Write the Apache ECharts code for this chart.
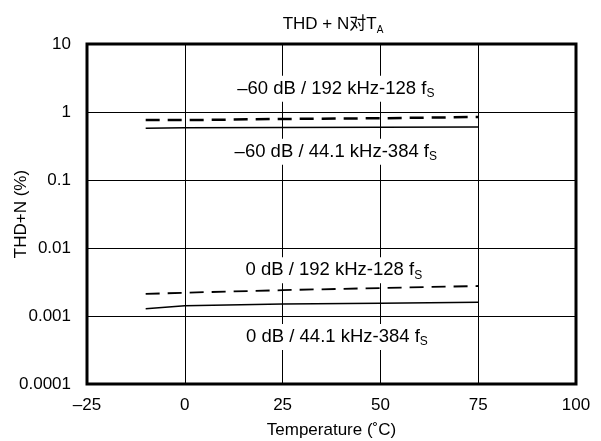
<!DOCTYPE html>
<html>
<head>
<meta charset="utf-8">
<script src="https://cdn.jsdelivr.net/npm/echarts@6/dist/echarts.min.js"></script>
<style>
  html, body { margin: 0; padding: 0; background: #fff; }
  #chart { width: 601px; height: 441px; }
</style>
</head>
<body>
<div id="chart"></div>
<script>
// 温度点
const temps = [-10, 0, 25, 50, 75];
// 各曲线数据 (THD+N %)
const m60_192 = [0.76, 0.76, 0.79, 0.81, 0.845];
const m60_441 = [0.575, 0.585, 0.59, 0.595, 0.60];
const z0_192 = [0.00211, 0.0022, 0.0024, 0.00258, 0.00276];
const z0_441 = [0.00128, 0.00142, 0.0015, 0.00154, 0.00159];
const yTicks = ['0.0001', '0.001', '0.01', '0.1', '1', '10'];
// 标注文字 [x, y, 文本, 下标]
const notes = [
  [38.6, 2.2, '–60 dB / 192 kHz-128 f', 'S'],
  [38.6, 0.26, '–60 dB / 44.1 kHz-384 f', 'S'],
  [38.1, 0.0047, '0 dB / 192 kHz-128 f', 'S'],
  [38.9, 0.00049, '0 dB / 44.1 kHz-384 f', 'S']
];

const font = 'Liberation Sans, Arial, "Noto Sans CJK SC", sans-serif';
const myChart = echarts.init(document.getElementById('chart'));

function pairs(ys) {
  return temps.map((t, i) => [t, ys[i]]);
}

myChart.setOption({
  animation: false,
  title: {
    text: '{a|THD + N对T}{s|A}',
    left: 328,
    textAlign: 'center',
    top: 8,
    textStyle: {
      fontWeight: 'normal',
      rich: {
        a: { fontFamily: font, fontSize: 17, fontWeight: 'normal', color: '#000' },
        s: { fontFamily: font, fontSize: 10, fontWeight: 'normal', color: '#000', padding: [12, 0, 0, 0] }
      }
    }
  },
  grid: {
    left: 87, right: 25, top: 44, bottom: 57,
    show: true, borderColor: '#000', borderWidth: 3,
    containLabel: false,
    outerBoundsMode: 'none'
  },
  xAxis: {
    type: 'value',
    min: -25, max: 100, interval: 25,
    name: 'Temperature (˚C)',
    nameLocation: 'middle',
    nameGap: 38,
    nameMoveOverlap: false,
    nameTextStyle: { fontFamily: font, fontSize: 17, color: '#000' },
    axisLine: { show: false },
    axisTick: { show: false },
    axisLabel: {
      fontFamily: font, fontSize: 17, color: '#000', margin: 13,
      formatter: v => String(v).replace('-', '–')
    },
    splitLine: { show: true, lineStyle: { color: '#000', width: 1 } }
  },
  yAxis: {
    type: 'log',
    logBase: 10,
    min: 0.0001, max: 10,
    name: 'THD+N (%)',
    nameLocation: 'middle',
    nameGap: 57,
    nameMoveOverlap: false,
    nameTextStyle: { fontFamily: font, fontSize: 17, color: '#000' },
    axisLine: { show: false },
    axisTick: { show: false },
    axisLabel: {
      fontFamily: font, fontSize: 17, color: '#000', margin: 16,
      formatter: v => {
        const e = Math.round(Math.log10(v));
        return yTicks[e + 4];
      }
    },
    splitLine: { show: true, lineStyle: { color: '#000', width: 1 } }
  },
  series: [
    {
      name: '-60 dB 192', type: 'line', showSymbol: false, z: 3,
      data: pairs(m60_192),
      lineStyle: { color: '#000', width: 2.5, type: [14, 8] }
    },
    {
      name: '-60 dB 44.1', type: 'line', showSymbol: false, z: 3,
      data: pairs(m60_441),
      lineStyle: { color: '#000', width: 1.5 }
    },
    {
      name: '0 dB 192', type: 'line', showSymbol: false, z: 3,
      data: pairs(z0_192),
      lineStyle: { color: '#000', width: 1.8, type: [14, 8] }
    },
    {
      name: '0 dB 44.1', type: 'line', showSymbol: false, z: 3,
      data: pairs(z0_441),
      lineStyle: { color: '#000', width: 1.5 }
    }
  ]
});

// 标注文字按数据坐标放置
myChart.setOption({
  graphic: notes.map(n => {
    const p = myChart.convertToPixel({ gridIndex: 0 }, [n[0], n[1]]);
    return {
      type: 'text',
      x: p[0], y: p[1],
      z: 10,
      style: {
        text: '{a|' + n[2] + '}{s|' + n[3] + '}',
        align: 'center',
        verticalAlign: 'middle',
        backgroundColor: '#fff',
        padding: [2, 2, 2, 2],
        rich: {
          a: { fontFamily: font, fontSize: 18.5, fill: '#000' },
          s: { fontFamily: font, fontSize: 12, fill: '#000', padding: [10, 0, 0, 0] }
        }
      }
    };
  })
});

window.addEventListener('resize', function () {
  myChart.resize();
});
</script>
</body>
</html>
